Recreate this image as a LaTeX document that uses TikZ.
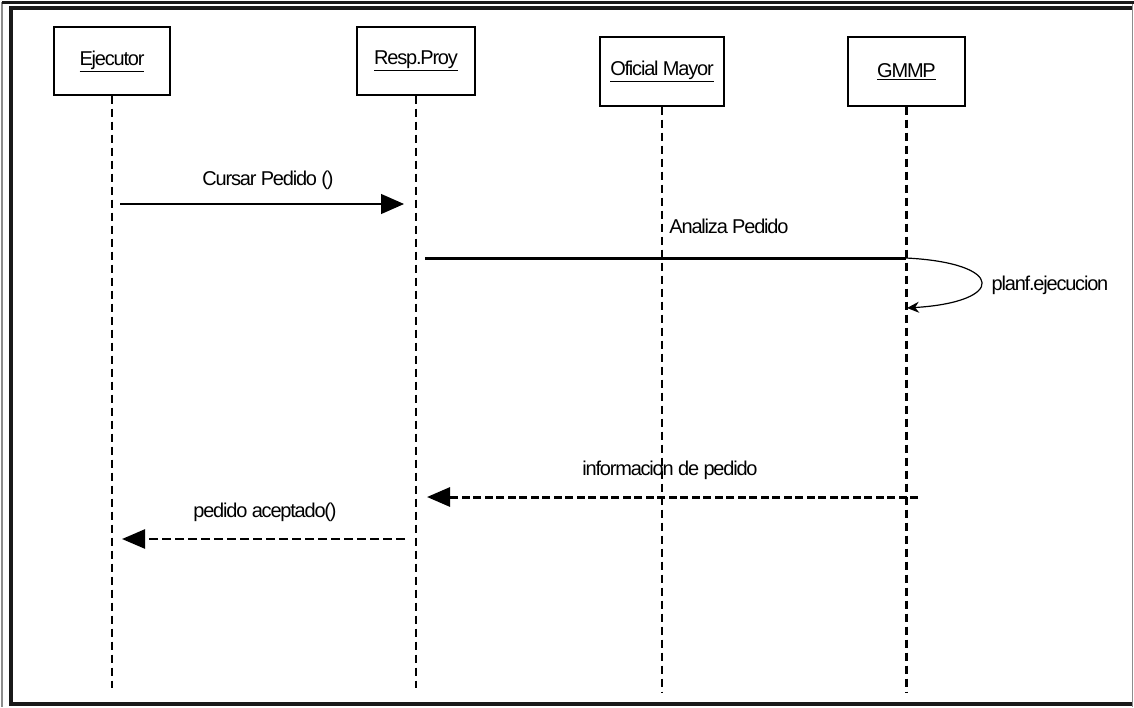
\documentclass[tikz,border=0pt]{standalone}
\usepackage{fontspec}
\setmainfont{Liberation Sans}[LetterSpace=-6]
\usetikzlibrary{arrows.meta}
\begin{document}
\begin{tikzpicture}[x=1pt,y=-1pt,
  lbl/.style={inner sep=0pt, font=\fontsize{20}{23}\selectfont},
  actor/.style={draw, line width=1.3pt, minimum height=68pt, inner sep=0pt,
    font=\fontsize{20}{23}\selectfont},
  life/.style={line width=2.2pt, dash pattern=on 8pt off 5pt},
  call/.style={line width=1.2pt, -{Triangle[length=23pt,width=20pt]}},
  reply/.style={line width=3pt, dash pattern=on 8pt off 3.5pt,
    -{Triangle[length=23pt,width=19pt]}},
  frame/.style={line width=4pt, black!90}]
\useasboundingbox (0,0) rectangle (1134,707);

% double frame round the diagram
\draw[line width=1.2pt, black!45] (2,2) -- (2,707);
\draw[line width=1.2pt, black!45] (1132.8,4) -- (1132.8,707);
\draw[line width=3pt, black!90] (2,2.5) -- (1134,2.5);
\draw[frame] (9,8) -- (1132,8);
\draw[frame] (11,6) -- (11,706);
\draw[frame] (9,704) -- (1132,704);

% participants
\node[actor, minimum width=116pt] (ej) at (112,61) {\underline{Ejecutor}};
\node[actor, minimum width=118pt] (rp) at (416,61) {\underline{Resp.Proy}};
\node[actor, minimum width=124pt, minimum height=69pt] (om) at (662,71.5) {\underline{Oficial Mayor}};
\node[actor, minimum width=117pt, minimum height=69pt] (gm) at (906.5,71.5) {\underline{GMMP}};

% lifelines
\coordinate (ej-end) at (112,688);
\coordinate (rp-end) at (416,688);
\coordinate (om-end) at (662,692);
\coordinate (gm-end) at (906.5,692);
\draw[life] (ej.south) -- (ej-end);
\draw[life] (rp.south) -- (rp-end);
\draw[life] (om.south) -- (om-end);
\draw[life] (gm.south) -- (gm-end);

% message end points
\coordinate (m1a) at (120,204);
\coordinate (m1b) at (404,204);
\coordinate (m2a) at (425,258);
\coordinate (m2b) at (906,258);
\coordinate (m2c) at (907,308);
\coordinate (m3a) at (918,497);
\coordinate (m3b) at (427,497);
\coordinate (m4a) at (405,539);
\coordinate (m4b) at (122,539);

% messages
\draw[call] (m1a) -- (m1b);
\node[lbl] (t1) at (268,180) {Cursar Pedido ()};

\draw[line width=3pt] (m2a) -- (m2b);
\node[lbl] (t2) at (729,226) {Analiza Pedido};
\draw[line width=1.2pt, -{Stealth[length=12pt,width=11pt]}]
  (m2b) .. controls (1006,263) and (1006,302) .. (m2c);
\node[lbl] (t3) at (1050,285) {planf.ejecucion};

\draw[reply] (m3a) -- (m3b);
\node[lbl] (t4) at (670,470) {informacion de pedido};

\draw[reply, line width=2.5pt, dash pattern=on 9pt off 4pt] (m4a) -- (m4b);
\node[lbl] (t5) at (265,512) {pedido aceptado()};
\end{tikzpicture}
\end{document}
